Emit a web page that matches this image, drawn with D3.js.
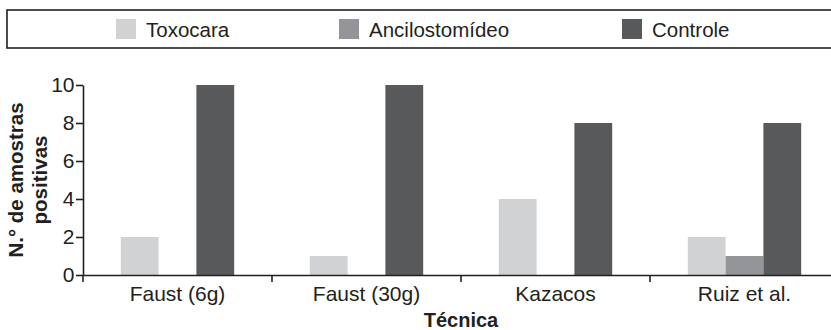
<!DOCTYPE html>
<html><head><meta charset="utf-8">
<script src="https://cdn.jsdelivr.net/npm/d3@7"></script>
<style>
html,body{margin:0;padding:0;background:#fff;}
svg{display:block;font-family:"Liberation Sans",Arial,sans-serif;}
</style></head>
<body>
<svg id="chart" width="831" height="330"></svg>
<script>
const categories = ["Faust (6g)", "Faust (30g)", "Kazacos", "Ruiz et al."];
const seriesNames = ["Toxocara", "Ancilostomídeo", "Controle"];
const toxocara = [2, 1, 4, 2];
const ancilostomideo = [0, 0, 0, 1];
const controle = [10, 10, 8, 8];
const yTicks = [0, 2, 4, 6, 8, 10];
const colors = ["#d1d2d4", "#939598", "#58595b"];

const seriesValues = [toxocara, ancilostomideo, controle];
const data = categories.map((c, i) => ({cat: c, vals: seriesNames.map((s, j) => ({s, v: seriesValues[j][i]}))}));

const svg = d3.select("#chart");
const ink = "#231f20";
const FF = "Liberation Sans, Arial, sans-serif";

const x0 = d3.scaleBand().domain(categories).range([83, 839]).padding(0);
const bw = x0.bandwidth();
const x1 = d3.scaleBand().domain(seriesNames).range([bw * 0.2, bw * 0.8]).padding(0);
const y = d3.scaleLinear().domain([0, 10]).range([275, 85]);
const color = d3.scaleOrdinal().domain(seriesNames).range(colors);

// bars
svg.append("g").selectAll("g").data(data).join("g")
  .attr("transform", d => `translate(${x0(d.cat)},0)`)
  .selectAll("rect").data(d => d.vals).join("rect")
  .attr("x", d => x1(d.s))
  .attr("width", x1.bandwidth())
  .attr("y", d => y(d.v))
  .attr("height", d => y(0) - y(d.v))
  .attr("fill", d => color(d.s));

// x axis
const xAxis = svg.append("g").attr("transform", "translate(0,275)")
  .call(d3.axisBottom(x0).tickSize(0).tickSizeOuter(0).tickPadding(11));
xAxis.select(".domain").attr("stroke", ink).attr("stroke-width", 1.6);
xAxis.selectAll("text").attr("font-size", 21).attr("fill", ink).attr("font-family", FF);
xAxis.selectAll(".sep").data(categories).join("line").attr("class", "sep")
  .attr("x1", d => x0(d)).attr("x2", d => x0(d)).attr("y1", 0).attr("y2", 7)
  .attr("stroke", ink).attr("stroke-width", 1.6);

// y axis
const yAxis = svg.append("g").attr("transform", "translate(83,0)")
  .call(d3.axisLeft(y).tickValues(yTicks).tickSize(7).tickSizeOuter(0).tickPadding(1.5));
yAxis.select(".domain").attr("stroke", ink).attr("stroke-width", 1.6);
yAxis.selectAll(".tick line").attr("stroke", ink).attr("stroke-width", 1.6);
yAxis.selectAll("text").attr("font-size", 21).attr("fill", ink).attr("font-family", FF);

// axis titles
svg.append("text").attr("x", 461).attr("y", 327).attr("text-anchor", "middle")
  .attr("font-size", 20).attr("font-weight", "bold").attr("fill", ink).text("Técnica");
const yt = svg.append("text").attr("transform", "translate(23,180) rotate(-90)")
  .attr("text-anchor", "middle").attr("font-size", 20.5).attr("font-weight", "bold").attr("fill", ink);
yt.append("tspan").attr("x", 0).attr("y", 0).text("N.° de amostras");
yt.append("tspan").attr("x", 0).attr("y", 24).text("positivas");

// legend
const lg = svg.append("g");
lg.append("rect").attr("x", 7).attr("y", 10).attr("width", 830).attr("height", 38)
  .attr("fill", "none").attr("stroke", ink).attr("stroke-width", 1.6);
const legendX = [116, 339, 622];
const items = lg.selectAll("g.item").data(seriesNames).join("g").attr("class", "item")
  .attr("transform", (d, i) => `translate(${legendX[i]},0)`);
items.append("rect").attr("x", 0).attr("y", 19).attr("width", 20).attr("height", 20).attr("fill", d => color(d));
items.append("text").attr("x", 30).attr("y", 37).attr("font-size", 20.5).attr("fill", ink).text(d => d);
</script>
</body></html>
